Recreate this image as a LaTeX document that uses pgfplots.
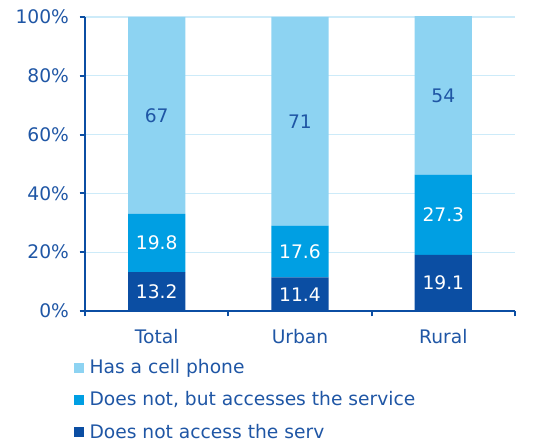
\documentclass[border=0pt]{standalone}
\usepackage{pgfplots}
\pgfplotsset{compat=1.18}
\usepackage{fontspec}
\setmainfont{DejaVu Sans}
\definecolor{cLight}{HTML}{8DD3F2}
\definecolor{cMid}{HTML}{009FE3}
\definecolor{cDark}{HTML}{0B4EA3}
\definecolor{cText}{HTML}{1F56A5}
\definecolor{cGrid}{HTML}{CDEBF9}

\begin{document}
\begin{tikzpicture}[font=\fontsize{14}{16}\selectfont]
\pgfplotsset{
  base/.style={
    scale only axis, width=322.5pt, height=220.5pt,
    xmin=-0.5, xmax=2.5, ymin=0, ymax=100,
  }
}
% stacked bars
\begin{axis}[base,
  ybar stacked, bar width=0.4,
  axis x line*=bottom, axis y line*=left,
  axis line style={cDark, line width=1.6pt},
  tick style={cDark, line width=1.4pt},
  tick align=outside, major tick length=4pt,
  ytick={0,20,...,100}, yticklabels={0\%,20\%,40\%,60\%,80\%,100\%},
  xtick={-0.5,0.5,1.5,2.5}, xticklabels={},
  extra x ticks={0,1,2}, extra x tick labels={Total,Urban,Rural},
  extra x tick style={major tick length=0pt, grid=none},
  ymajorgrids, grid style={cGrid, line width=1pt},
  tick label style={text=cText},
  every x tick label/.append style={yshift=-10.5pt},
  every y tick label/.append style={xshift=-4.5pt},
  reverse legend,
  legend cell align=left,
  legend style={at={(-0.026,-0.155)}, anchor=north west, draw=none, fill=none,
    text=cText, row sep=8pt, inner sep=0pt,
    nodes={inner xsep=4pt}},
  legend image code/.code={\fill[#1,draw=none] (0pt,-3.8pt) rectangle (7.6pt,3.8pt);},
]
\addplot[fill=cDark, draw=none] coordinates {(0,13.2) (1,11.4) (2,19.1)};
\addplot[fill=cMid, draw=none] coordinates {(0,19.8) (1,17.6) (2,27.3)};
\addplot[fill=cLight, draw=none] coordinates {(0,67) (1,71) (2,54)};
\legend{Does not access the serv, {Does not, but accesses the service}, Has a cell phone}
\end{axis}
% segment labels, centred in each segment
\begin{axis}[base, hide axis, clip=false]
\addplot[only marks, mark=none, nodes near coords, point meta=explicit symbolic,
  every node near coord/.style={anchor=center, text=white}]
  table[meta=label] {
x y label
0 6.6 13.2
1 5.7 11.4
2 9.55 19.1
0 23.1 19.8
1 20.1 17.6
2 32.75 27.3
};
\addplot[only marks, mark=none, nodes near coords, point meta=explicit symbolic,
  every node near coord/.style={anchor=center, text=cText}]
  table[meta=label] {
x y label
0 66.5 67
1 64.5 71
2 73.2 54
};
\path (rel axis cs:-0.1977,-0.4388) rectangle (rel axis cs:1.0419,1.0578);
\end{axis}
\end{tikzpicture}
\end{document}
